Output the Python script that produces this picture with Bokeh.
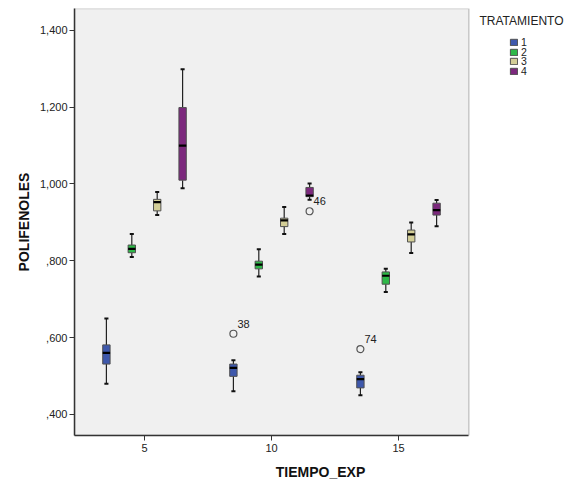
from bokeh.plotting import figure
from bokeh.models import (Range1d, FixedTicker, Legend, LegendItem, Label,
                          ColumnDataSource, BoxAnnotation)
from bokeh.embed import file_html
from bokeh.resources import INLINE
from bokeh.core.properties import value

# ---- data ----
tiempo = [5, 10, 15]
tratamientos = ["1", "2", "3", "4"]
desplazamiento = [-1.5, -0.5, 0.5, 1.5]
colores = ["#3E58AC", "#2EB848", "#D3CE97", "#7C287D"]

# stats per tratamiento, one value per tiempo (5, 10, 15)
bigote_inf = {"1": [0.480, 0.460, 0.450], "2": [0.810, 0.759, 0.719],
              "3": [0.919, 0.870, 0.820], "4": [0.989, 0.959, 0.890]}
q1 = {"1": [0.531, 0.499, 0.469], "2": [0.821, 0.779, 0.739],
      "3": [0.930, 0.889, 0.849], "4": [1.010, 0.967, 0.919]}
mediana = {"1": [0.560, 0.521, 0.492], "2": [0.831, 0.790, 0.761],
           "3": [0.953, 0.905, 0.869], "4": [1.100, 0.970, 0.932]}
q3 = {"1": [0.581, 0.531, 0.502], "2": [0.841, 0.799, 0.771],
      "3": [0.960, 0.911, 0.880], "4": [1.199, 0.991, 0.950]}
bigote_sup = {"1": [0.650, 0.541, 0.510], "2": [0.870, 0.830, 0.779],
              "3": [0.979, 0.940, 0.900], "4": [1.299, 1.001, 0.958]}

atip_tiempo = [10, 10, 15]
atip_trat = ["1", "4", "1"]
atip_valor = [0.610, 0.929, 0.570]
atip_etiqueta = ["38", "46", "74"]

y_ticks = [0.4, 0.6, 0.8, 1.0, 1.2, 1.4]
y_tick_labels = [",400", ",600", ",800", "1,000", "1,200", "1,400"]
x_ticks = [5, 10, 15]

FONT = "Liberation Sans"
BOX_W = 0.29
CAP_W = 0.16
X_LO, X_HI = 2.244, 17.77      # plotting area of the chart
Y_LO, Y_HI = 0.345, 1.457
PX_PER_X = 25.4
FRAME_W = 492

p = figure(width=568, height=482,
           x_range=Range1d(X_LO, X_LO + FRAME_W / PX_PER_X), y_range=Range1d(Y_LO, Y_HI),
           output_backend="svg", toolbar_location=None,
           min_border_left=74, min_border_right=2,
           min_border_top=8, min_border_bottom=44)

p.background_fill_color = "white"
p.border_fill_color = "white"
p.outline_line_color = None
p.xgrid.visible = False
p.ygrid.visible = False

# grey plotting area with its frame
p.add_layout(BoxAnnotation(left=X_LO, right=X_HI, bottom=Y_LO, top=Y_HI,
                           fill_color="#F0F0F0", fill_alpha=1,
                           line_color="#5A5A5A", line_width=1.5, level="underlay"))

for ax in (p.xaxis, p.yaxis):
    ax.axis_line_color = "#333333"
    ax.axis_line_width = 1.5
    ax.major_tick_line_color = "#333333"
    ax.major_tick_out = 5
    ax.major_tick_in = 0
    ax.minor_tick_line_color = None
    ax.major_label_text_font = FONT
    ax.major_label_text_font_size = "11px"
    ax.major_label_text_color = "#222222"
    ax.axis_label_text_font = FONT
    ax.axis_label_text_font_size = "14px"
    ax.axis_label_text_font_style = "bold"
    ax.axis_label_text_color = "#111111"

p.xaxis.ticker = FixedTicker(ticks=x_ticks)
p.xaxis.bounds = (X_LO, X_HI)
p.xaxis.axis_label = "TIEMPO_EXP"
p.xaxis.major_label_standoff = 3
p.xaxis.axis_label_standoff = 9

p.yaxis.ticker = FixedTicker(ticks=y_ticks)
p.yaxis.major_label_overrides = {t: l for t, l in zip(y_ticks, y_tick_labels)}
p.yaxis.axis_label = "POLIFENOLES"
p.yaxis.major_label_standoff = 2
p.yaxis.axis_label_standoff = 5

box_renderers = []
for i, t in enumerate(tratamientos):
    xs = [tt + desplazamiento[i] for tt in tiempo]
    src = ColumnDataSource(dict(
        x=xs, lo=bigote_inf[t], q1=q1[t], med=mediana[t], q3=q3[t], hi=bigote_sup[t],
        x0=[x - BOX_W / 2 for x in xs], x1=[x + BOX_W / 2 for x in xs],
        c0=[x - CAP_W / 2 for x in xs], c1=[x + CAP_W / 2 for x in xs]))
    # whiskers
    p.segment(x0="x", y0="q3", x1="x", y1="hi", source=src, line_color="#222222", line_width=1.2)
    p.segment(x0="x", y0="lo", x1="x", y1="q1", source=src, line_color="#222222", line_width=1.2)
    p.segment(x0="c0", y0="hi", x1="c1", y1="hi", source=src, line_color="#111111", line_width=2)
    p.segment(x0="c0", y0="lo", x1="c1", y1="lo", source=src, line_color="#111111", line_width=2)
    # box
    r = p.vbar(x="x", width=BOX_W, bottom="q1", top="q3", source=src,
               fill_color=colores[i], line_color="#505050", line_width=1)
    # median
    p.segment(x0="x0", y0="med", x1="x1", y1="med", source=src, line_color="black", line_width=2.2)
    box_renderers.append(r)

# outliers
ax_x = [tt + desplazamiento[tratamientos.index(tr)] for tt, tr in zip(atip_tiempo, atip_trat)]
osrc = ColumnDataSource(dict(x=ax_x, y=atip_valor, lab=atip_etiqueta))
p.scatter(x="x", y="y", source=osrc, marker="circle", size=7, fill_color=None,
          line_color="#555555", line_width=1.2)
p.text(x="x", y="y", text="lab", source=osrc, x_offset=4, y_offset=-10,
       text_font=value(FONT), text_font_size="11px", text_color="#222222",
       text_baseline="middle", text_align="left")

# legend to the right of the grey area (inside the wider frame), one row each
for i, (t, r) in enumerate(zip(tratamientos, box_renderers)):
    lg = Legend(items=[LegendItem(label=t, renderers=[r])],
                location=(435, 387 - 9.7 * i), orientation="vertical",
                glyph_width=9, glyph_height=8, label_height=8, spacing=0,
                padding=0, margin=0, border_line_color=None, background_fill_alpha=0,
                label_text_font=FONT, label_text_font_size="10.5px", label_standoff=3,
                label_text_color="#222222")
    p.add_layout(lg)

title = Label(x=447, y=415, x_units="screen", y_units="screen", text="TRATAMIENTO",
              text_font=FONT, text_font_size="12px", text_color="#222222",
              text_align="center", text_baseline="middle")
p.add_layout(title)

open("out.html", "w").write(file_html(p, INLINE))
